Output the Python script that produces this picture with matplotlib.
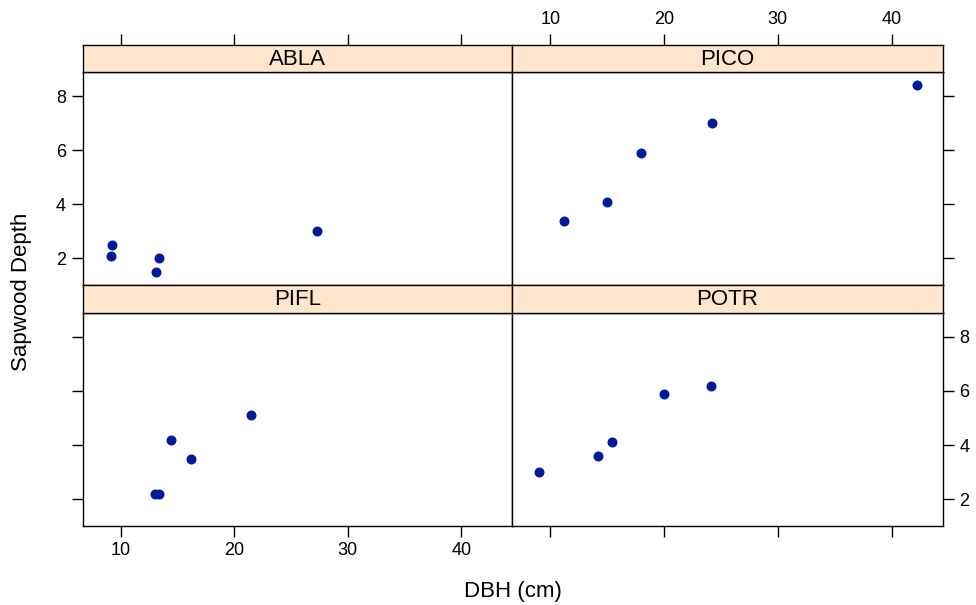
import matplotlib
matplotlib.use("Agg")
import matplotlib.pyplot as plt

plt.rcParams['font.family'] = ['Liberation Sans', 'DejaVu Sans']

# datos por especie
especies = ["ABLA", "PICO", "PIFL", "POTR"]
dbh = {
    "ABLA": [9.1, 9.2, 13.1, 13.4, 27.3],
    "PICO": [11.2, 15.0, 18.0, 24.2, 42.2],
    "PIFL": [13.0, 13.4, 14.4, 16.2, 21.5],
    "POTR": [9.0, 14.2, 15.4, 20.0, 24.1],
}
sapwood = {
    "ABLA": [2.1, 2.5, 1.5, 2.0, 3.0],
    "PICO": [3.4, 4.1, 5.9, 7.0, 8.4],
    "PIFL": [2.2, 2.2, 4.2, 3.5, 5.1],
    "POTR": [3.0, 3.6, 4.1, 5.9, 6.2],
}
xticks = [10, 20, 30, 40]
yticks = [2, 4, 6, 8]

W, H = 976, 605
fig = plt.figure(figsize=(W / 100, H / 100), dpi=100)

def px_axes(x0, y0, x1, y1):
    # coordenadas en pixeles (origen arriba a la izquierda)
    return fig.add_axes([x0 / W, 1 - y1 / H, (x1 - x0) / W, (y1 - y0) / H])

cols = [(82.7, 512.3), (512.3, 942.7)]
rows = [(44.7, 72.0, 285.0), (285.0, 312.7, 525.7)]  # strip top, panel top, panel bottom
xlim = (6.65, 44.5)
ylim = (1.02, 8.89)
punto = '#001a99'
strip_col = '#ffe5cc'

for i, sp in enumerate(especies):
    r, c = divmod(i, 2)
    st, pt, pb = rows[r]
    x0, x1 = cols[c]

    ax = px_axes(x0, pt, x1, pb)
    ax.scatter(dbh[sp], sapwood[sp], s=52, color=punto, linewidths=0, zorder=3)
    ax.set_xlim(*xlim)
    ax.set_ylim(*ylim)
    for s in ax.spines.values():
        s.set_linewidth(1.0)
    ax.tick_params(direction='out', length=8, width=1.0, labelsize=13, pad=4)

    # eje x: etiquetas abajo en columna izquierda, arriba en la derecha
    ax.set_xticks(xticks)
    if r == 1:
        ax.tick_params(axis='x', bottom=True, top=False, labelbottom=(c == 0), labeltop=False)
    else:
        ax.tick_params(axis='x', bottom=False, top=False, labelbottom=False, labeltop=False)

    # eje y: etiquetas izquierda en fila superior, derecha en la inferior
    ax.set_yticks(yticks)
    if c == 0:
        ax.tick_params(axis='y', left=True, right=False, labelleft=(r == 0), labelright=False)
    else:
        ax.tick_params(axis='y', left=False, right=True, labelleft=False, labelright=(r == 1))

    # franja con el nombre
    sax = px_axes(x0, st, x1, pt)
    sax.set_facecolor(strip_col)
    sax.set_xlim(*xlim)
    sax.set_yticks([])
    for s in sax.spines.values():
        s.set_linewidth(1.0)
    sax.set_xticks(xticks)
    if r == 0:
        sax.tick_params(axis='x', direction='out', length=8, width=1.0, labelsize=13, pad=4,
                        bottom=False, top=True, labelbottom=False, labeltop=(c == 1))
    else:
        sax.tick_params(axis='x', bottom=False, top=False, labelbottom=False, labeltop=False)
    sax.text(0.5, 0.47, sp, transform=sax.transAxes, ha='center', va='center', fontsize=16)

fig.text(513 / W, 1 - 592 / H, "DBH (cm)", ha='center', va='center', fontsize=16)
fig.text(22 / W, 1 - 292 / H, "Sapwood Depth", ha='center', va='center',
         rotation=90, fontsize=16)

fig.savefig("out.png", dpi=100)
